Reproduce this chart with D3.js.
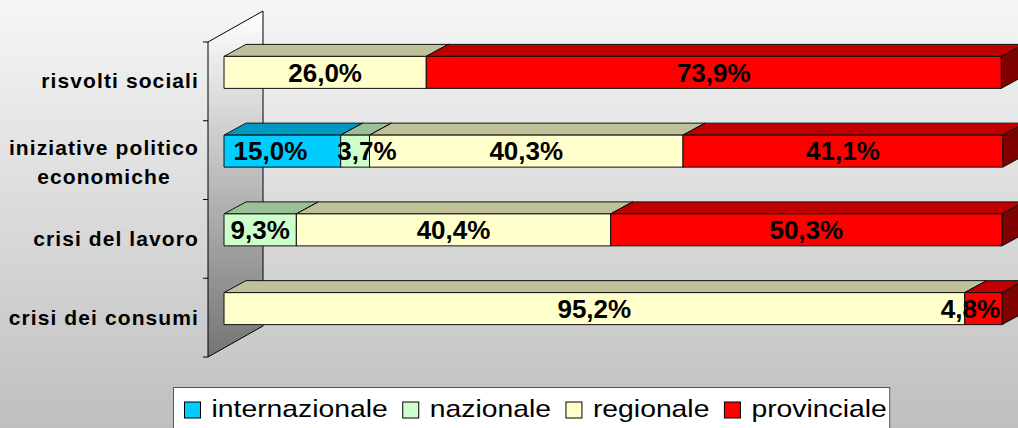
<!DOCTYPE html>
<html>
<head>
<meta charset="utf-8">
<script src="https://cdn.jsdelivr.net/npm/d3@7"></script>
<style>
  body { margin: 0; }
  svg { display: block; }
</style>
</head>
<body>
<script>

const categories = ["risvolti sociali", "iniziative politico economiche", "crisi del lavoro", "crisi dei consumi"];
const categoryLines = [["risvolti sociali"], ["iniziative politico", "economiche"], ["crisi del lavoro"], ["crisi dei consumi"]];
const seriesNames = ["internazionale", "nazionale", "regionale", "provinciale"];

const internazionale = [0, 15.0, 0, 0];
const nazionale = [0, 3.7, 9.3, 0];
const regionale = [26.0, 40.3, 40.4, 95.2];
const provinciale = [73.9, 41.1, 50.3, 4.8];

const width = 1018, height = 428;

const fills = {
  internazionale: "#00ccff",
  nazionale: "#ccffcc",
  regionale: "#ffffcc",
  provinciale: "#ff0000"
};

let table = categories.map((c, i) => ({
  cat: c,
  internazionale: internazionale[i],
  nazionale: nazionale[i],
  regionale: regionale[i],
  provinciale: provinciale[i]
}));

let stacked = d3.stack().keys(seriesNames)(table);

const svg = d3.select("body")
  .append("svg")
  .attr("width", width)
  .attr("height", height)
  .style("font-family", "'Liberation Sans', Arial, sans-serif");

const defs = svg.append("defs");

let bgGrad = defs.append("linearGradient")
  .attr("id", "bgGrad").attr("x1", 0).attr("y1", 0).attr("x2", 0).attr("y2", 1);
bgGrad.append("stop").attr("offset", "0%").attr("stop-color", "#f6f6f6");
bgGrad.append("stop").attr("offset", "100%").attr("stop-color", "#bfbfbf");

let wallGrad = defs.append("linearGradient")
  .attr("id", "wallGrad").attr("x1", 0).attr("y1", 0).attr("x2", 0).attr("y2", 1);
wallGrad.append("stop").attr("offset", "0%").attr("stop-color", "#ffffff");
wallGrad.append("stop").attr("offset", "100%").attr("stop-color", "#747474");

svg.append("rect")
  .attr("width", width)
  .attr("height", height)
  .attr("fill", "url(#bgGrad)");

// side wall (3d)
let wall = {x: 208, top: 42, bottom: 357, dx: 55, dy: -31};

let yWall = d3.scaleBand()
  .domain(categories)
  .range([wall.top, wall.bottom]);

svg.append("polygon")
  .attr("points", [
      [wall.x, wall.top], [wall.x + wall.dx, wall.top + wall.dy],
      [wall.x + wall.dx, wall.bottom + wall.dy], [wall.x, wall.bottom]
    ].map(p => p.join(",")).join(" "))
  .attr("fill", "url(#wallGrad)")
  .attr("stroke", "#000")
  .attr("stroke-width", 1);

let tickYs = categories.map(c => yWall(c)).concat([wall.bottom]);
svg.append("g").selectAll("line")
  .data(tickYs)
  .join("line")
    .attr("x1", wall.x - 5).attr("x2", wall.x)
    .attr("y1", d => d).attr("y2", d => d)
    .attr("stroke", "#000");

// category labels
let catG = svg.append("g")
  .attr("font-size", "21px")
  .attr("font-weight", "bold")
  .attr("letter-spacing", "1.1px")
  .attr("fill", "#000");

categories.forEach((c, i) => {
  let lines = categoryLines[i];
  let cy = yWall(c) + yWall.bandwidth() / 2 + 7;
  let lh = 29;
  let texts = lines.map((l, j) => catG.append("text")
      .attr("y", cy + (lines.length > 1 ? 2 : 0) + (j - (lines.length - 1) / 2) * lh)
      .attr("text-anchor", "middle")
      .text(l));
  let w = d3.max(texts, t => t.node().getComputedTextLength());
  texts.forEach(t => t.attr("x", 199 - w / 2));
});

// bars
let x = d3.scaleLinear().domain([0, 100]).range([224, 1002]);
let y = d3.scaleBand().domain(categories).range([wall.top - 9, wall.bottom - 9]);
let barH = 32;
let depth = {dx: 22, dy: -12};

let pts = arr => arr.map(p => p.join(",")).join(" ");

let barsG = svg.append("g")
  .attr("stroke", "#111")
  .attr("stroke-width", 1)
  .attr("stroke-linejoin", "round");

let labels = [];

categories.forEach((c, i) => {
  let y0 = y(c) + y.bandwidth() / 2 - barH / 2;
  let y1 = y0 + barH;
  stacked.forEach(s => {
    let seg = s[i];
    if (seg[1] - seg[0] <= 0) return;
    let xa = x(seg[0]), xb = x(seg[1]);
    let col = d3.color(fills[s.key]);
    let g = barsG.append("g");
    g.append("polygon")
      .attr("points", pts([[xa, y0], [xa + depth.dx, y0 + depth.dy], [xb + depth.dx, y0 + depth.dy], [xb, y0]]))
      .attr("fill", col.darker(0.8));
    g.append("polygon")
      .attr("points", pts([[xb, y0], [xb + depth.dx, y0 + depth.dy], [xb + depth.dx, y1 + depth.dy], [xb, y1]]))
      .attr("fill", col.darker(1.95));
    g.append("rect")
      .attr("x", xa).attr("y", y0)
      .attr("width", xb - xa).attr("height", barH)
      .attr("fill", col);
    labels.push({row: i, v: seg[1] - seg[0], cx: (xa + xb) / 2, cy: (y0 + y1) / 2});
  });
});

let fmt = v => d3.format(".1f")(v).replace(".", ",") + "%";

let labelSel = svg.append("g")
  .attr("font-size", "26px")
  .attr("font-weight", "bold")
  .attr("fill", "#000")
  .selectAll("text")
  .data(labels)
  .join("text")
    .attr("text-anchor", "middle")
    .attr("y", d => d.cy + 9.3)
    .text(d => fmt(d.v))
    .each(function(d) { d.w = this.getComputedTextLength(); });

// keep labels inside the plot and apart from each other
let minGap = 30;
labels.forEach((d, k) => {
  let maxX = x(100) - 2;
  if (d.cx + d.w / 2 > maxX) d.cx = maxX - d.w / 2;
  let prev = labels[k - 1];
  if (prev && prev.row === d.row) {
    let gap = (d.cx - d.w / 2) - (prev.cx + prev.w / 2);
    if (gap < minGap && d.w + prev.w < 200) {
      let shift = (minGap - gap) / 2;
      prev.cx -= shift;
      d.cx += shift;
    }
  }
});
labelSel.attr("x", d => d.cx);

// legend
let legend = svg.append("g").attr("transform", "translate(173.5,387.5)");
let box = legend.append("rect")
  .attr("height", 60)
  .attr("fill", "#fff")
  .attr("stroke", "#555")
  .attr("stroke-width", 1);

let lx = 11;
seriesNames.forEach(name => {
  legend.append("rect")
    .attr("x", lx).attr("y", 14.5)
    .attr("width", 16).attr("height", 16)
    .attr("fill", fills[name])
    .attr("stroke", "#000");
  let t = legend.append("text")
    .attr("x", 0).attr("y", 30)
    .attr("font-size", "24px")
    .attr("fill", "#000")
    .attr("transform", `translate(${lx + 27},0) scale(1.18,1)`)
    .text(name);
  lx += 27 + t.node().getComputedTextLength() * 1.18 + 15;
});
box.attr("width", lx - 12);

</script>
</body>
</html>
